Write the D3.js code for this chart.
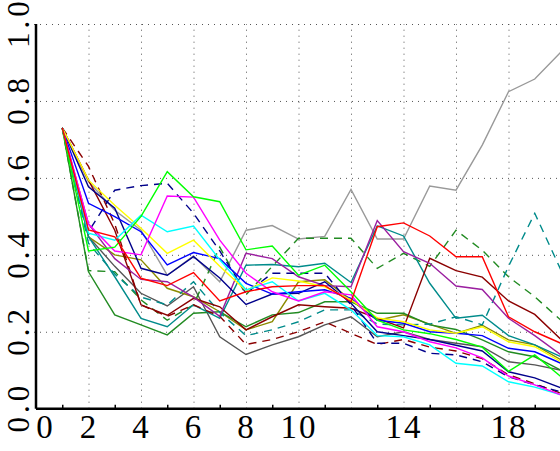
<!DOCTYPE html>
<html>
<head>
<meta charset="utf-8">
<script src="https://cdn.jsdelivr.net/npm/d3@7"></script>
<style>
  body { margin: 0; background: #fff; }
  svg { display: block; }
  .tick-label { font-family: "Liberation Serif", "Times New Roman", serif; fill: #000; }
</style>
</head>
<body>
<script>
// Set up chart
// =================================
var svgWidth = 560;
var svgHeight = 451;

var margin = {
    top: 24,
    right: -1,
    bottom: 42.3,
    left: 36
};

var chartWidth = svgWidth - margin.left - margin.right;
var chartHeight = svgHeight - margin.top - margin.bottom;

// Data
// =================================
var xValues = [1, 2, 3, 4, 5, 6, 7, 8, 9, 10, 11, 12, 13, 14, 15, 16, 17, 18, 19, 20];

var xLabelTicks = [0, 2, 4, 6, 8, 10, 14, 18];
var xGridTicks = [2, 4, 6, 8, 10, 12, 14, 16, 18];
var xMinorTicks = [1, 3, 5, 7, 9, 11, 13, 15, 17, 19];
var yTicks = [0.0, 0.2, 0.4, 0.6, 0.8, 1.0];

var lightGray = [0.73, 0.59, 0.516, 0.464, 0.347, 0.397, 0.33, 0.464, 0.476, 0.441, 0.448, 0.570, 0.441, 0.441, 0.579, 0.568, 0.685, 0.824, 0.857, 0.927];
var darkGray = [0.73, 0.447, 0.37, 0.30, 0.267, 0.317, 0.187, 0.141, 0.166, 0.187, 0.218, 0.239, 0.187, 0.20, 0.18, 0.17, 0.161, 0.122, 0.114, 0.10];
var lime = [0.73, 0.41, 0.42, 0.50, 0.616, 0.551, 0.538, 0.413, 0.423, 0.347, 0.373, 0.304, 0.23, 0.205, 0.195, 0.18, 0.16, 0.097, 0.14, 0.083];
var magenta = [0.73, 0.48, 0.41, 0.40, 0.553, 0.55, 0.438, 0.352, 0.304, 0.28, 0.304, 0.296, 0.213, 0.20, 0.174, 0.158, 0.132, 0.085, 0.062, 0.036];
var cyan = [0.73, 0.456, 0.438, 0.503, 0.46, 0.475, 0.387, 0.309, 0.33, 0.28, 0.30, 0.257, 0.19, 0.187, 0.166, 0.118, 0.111, 0.07, 0.056, 0.036];
var yellow = [0.73, 0.594, 0.529, 0.469, 0.404, 0.438, 0.37, 0.307, 0.34, 0.332, 0.317, 0.283, 0.236, 0.226, 0.205, 0.196, 0.213, 0.174, 0.161, 0.122];
var blue = [0.73, 0.534, 0.499, 0.46, 0.374, 0.406, 0.39, 0.326, 0.298, 0.304, 0.309, 0.287, 0.23, 0.222, 0.20, 0.196, 0.19, 0.157, 0.148, 0.118];
var navy = [0.73, 0.577, 0.521, 0.365, 0.347, 0.395, 0.34, 0.271, 0.298, 0.30, 0.33, 0.274, 0.20, 0.19, 0.18, 0.165, 0.15, 0.096, 0.08, 0.054];
var navyDashed = [0.73, 0.46, 0.568, 0.58, 0.586, 0.508, 0.41, 0.30, 0.352, 0.352, 0.352, 0.27, 0.17, 0.17, 0.144, 0.14, 0.122, 0.083, 0.062, 0.044];
var red = [0.73, 0.465, 0.447, 0.339, 0.32, 0.354, 0.28, 0.304, 0.317, 0.32, 0.32, 0.278, 0.473, 0.483, 0.449, 0.395, 0.395, 0.239, 0.20, 0.17];
var darkRed = [0.73, 0.594, 0.464, 0.27, 0.243, 0.287, 0.265, 0.205, 0.239, 0.27, 0.265, 0.261, 0.235, 0.21, 0.391, 0.359, 0.342, 0.28, 0.245, 0.18];
var darkRedDashed = [0.73, 0.63, 0.48, 0.27, 0.24, 0.27, 0.24, 0.167, 0.18, 0.20, 0.226, 0.196, 0.167, 0.18, 0.16, 0.15, 0.13, 0.088, 0.065, 0.04];
var purple = [0.73, 0.48, 0.39, 0.336, 0.33, 0.29, 0.24, 0.404, 0.39, 0.343, 0.32, 0.317, 0.489, 0.408, 0.378, 0.319, 0.31, 0.235, 0.19, 0.14];
var teal = [0.73, 0.447, 0.343, 0.235, 0.213, 0.27, 0.235, 0.373, 0.375, 0.369, 0.378, 0.328, 0.475, 0.449, 0.326, 0.235, 0.243, 0.19, 0.166, 0.135];
var tealDashed = [0.73, 0.43, 0.35, 0.29, 0.27, 0.33, 0.25, 0.19, 0.205, 0.226, 0.257, 0.257, 0.22, 0.218, 0.22, 0.239, 0.218, 0.37, 0.508, 0.36];
var darkGreen = [0.73, 0.356, 0.244, 0.218, 0.192, 0.248, 0.252, 0.213, 0.244, 0.25, 0.278, 0.278, 0.248, 0.248, 0.218, 0.206, 0.179, 0.148, 0.135, 0.10];
var greenDashed = [0.73, 0.359, 0.356, 0.283, 0.23, 0.27, 0.42, 0.296, 0.37, 0.443, 0.443, 0.443, 0.365, 0.404, 0.37, 0.464, 0.412, 0.343, 0.291, 0.23];
var olive = [0.73, 0.447, 0.40, 0.387, 0.313, 0.291, 0.252, 0.205, 0.226, 0.33, 0.335, 0.283, 0.23, 0.244, 0.22, 0.196, 0.217, 0.179, 0.166, 0.127];

// line styles, kept apart from the values
var seriesList = [
    { values: lightGray, color: "#999999", dash: null },
    { values: darkGray, color: "#555555", dash: null },
    { values: olive, color: "#8b8b00", dash: null },
    { values: darkGreen, color: "#228b22", dash: null },
    { values: greenDashed, color: "#228b22", dash: "8,6" },
    { values: tealDashed, color: "#008b8b", dash: "8,6" },
    { values: teal, color: "#008b8b", dash: null },
    { values: darkRedDashed, color: "#8b0000", dash: "8,6" },
    { values: darkRed, color: "#8b0000", dash: null },
    { values: purple, color: "#9b1fa0", dash: null },
    { values: navyDashed, color: "#00008b", dash: "8,6" },
    { values: navy, color: "#00008b", dash: null },
    { values: blue, color: "#0000ff", dash: null },
    { values: yellow, color: "#ffff00", dash: null },
    { values: cyan, color: "#00ffff", dash: null },
    { values: magenta, color: "#ff00ff", dash: null },
    { values: lime, color: "#00ff00", dash: null },
    { values: red, color: "#ff0000", dash: null }
];

// SVG wrapper
// =================================
var svg = d3
    .select("body")
    .append("svg")
    .attr("width", svgWidth)
    .attr("height", svgHeight);

var chartGroup = svg.append("g")
    .attr("transform", `translate(${margin.left}, ${margin.top})`);

// Scales
// =================================
var xLinearScale = d3.scaleLinear()
    .domain([0, 20])
    .range([0, chartWidth]);

var yLinearScale = d3.scaleLinear()
    .domain([0, 1])
    .range([chartHeight, 0]);

// Dotted grid
// =================================
var xGrid = chartGroup.append("g")
    .attr("transform", `translate(0, ${chartHeight})`)
    .call(d3.axisBottom(xLinearScale).tickValues(xGridTicks).tickSize(-chartHeight).tickFormat(""));
xGrid.select(".domain").remove();
xGrid.selectAll("line")
    .attr("stroke", "#555")
    .attr("stroke-width", 1)
    .attr("stroke-dasharray", "1,5");

var yGrid = chartGroup.append("g")
    .attr("transform", "translate(-8, 0)")
    .call(d3.axisLeft(yLinearScale).tickValues(yTicks.slice(1)).tickSize(-(chartWidth + 8)).tickFormat(""));
yGrid.select(".domain").remove();
yGrid.selectAll("line")
    .attr("stroke", "#555")
    .attr("stroke-width", 1)
    .attr("stroke-dasharray", "1,5");

// Series lines
// =================================
var lineGen = d3.line()
    .x((d, i) => xLinearScale(xValues[i]))
    .y(d => yLinearScale(d));

chartGroup.selectAll(".series")
    .data(seriesList)
    .enter()
    .append("path")
    .attr("class", "series")
    .attr("d", d => lineGen(d.values))
    .attr("fill", "none")
    .attr("stroke", d => d.color)
    .attr("stroke-width", 1.4)
    .attr("stroke-dasharray", d => d.dash);

// Axes
// =================================
// minor ticks pointing up from the bottom axis
var minorAxis = chartGroup.append("g")
    .attr("transform", `translate(0, ${chartHeight})`)
    .call(d3.axisBottom(xLinearScale).tickValues(xMinorTicks).tickSize(-4).tickFormat(""));
minorAxis.select(".domain").remove();
minorAxis.selectAll("line").attr("stroke", "#000").attr("stroke-width", 1.5);

var bottomAxis = chartGroup.append("g")
    .attr("transform", `translate(0, ${chartHeight})`)
    .call(d3.axisBottom(xLinearScale).tickValues(xLabelTicks).tickSize(0).tickPadding(0));
bottomAxis.select(".domain").remove();
bottomAxis.selectAll("text")
    .attr("class", "tick-label")
    .attr("y", 29.5)
    .attr("dy", null)
    .attr("x", d => d === 0 ? 9 : 0)
    .style("font-size", "33px")
    .style("letter-spacing", "2px");

var leftAxis = chartGroup.append("g")
    .call(d3.axisLeft(yLinearScale).tickValues(yTicks).tickSize(0).tickFormat(d3.format(".1f")));
leftAxis.select(".domain").remove();
leftAxis.selectAll("text")
    .attr("class", "tick-label")
    .attr("x", null)
    .attr("dy", null)
    .attr("text-anchor", "middle")
    .attr("transform", "translate(-7, -2) rotate(-90)")
    .style("font-size", "31px")
    .style("letter-spacing", "4px");

// axis lines
chartGroup.append("line")
    .attr("x1", 0).attr("x2", 0)
    .attr("y1", yLinearScale(1)).attr("y2", chartHeight)
    .attr("stroke", "#000")
    .attr("stroke-width", 2.5);

chartGroup.append("line")
    .attr("x1", 0).attr("x2", chartWidth)
    .attr("y1", chartHeight).attr("y2", chartHeight)
    .attr("stroke", "#000")
    .attr("stroke-width", 2.5);
</script>
</body>
</html>
